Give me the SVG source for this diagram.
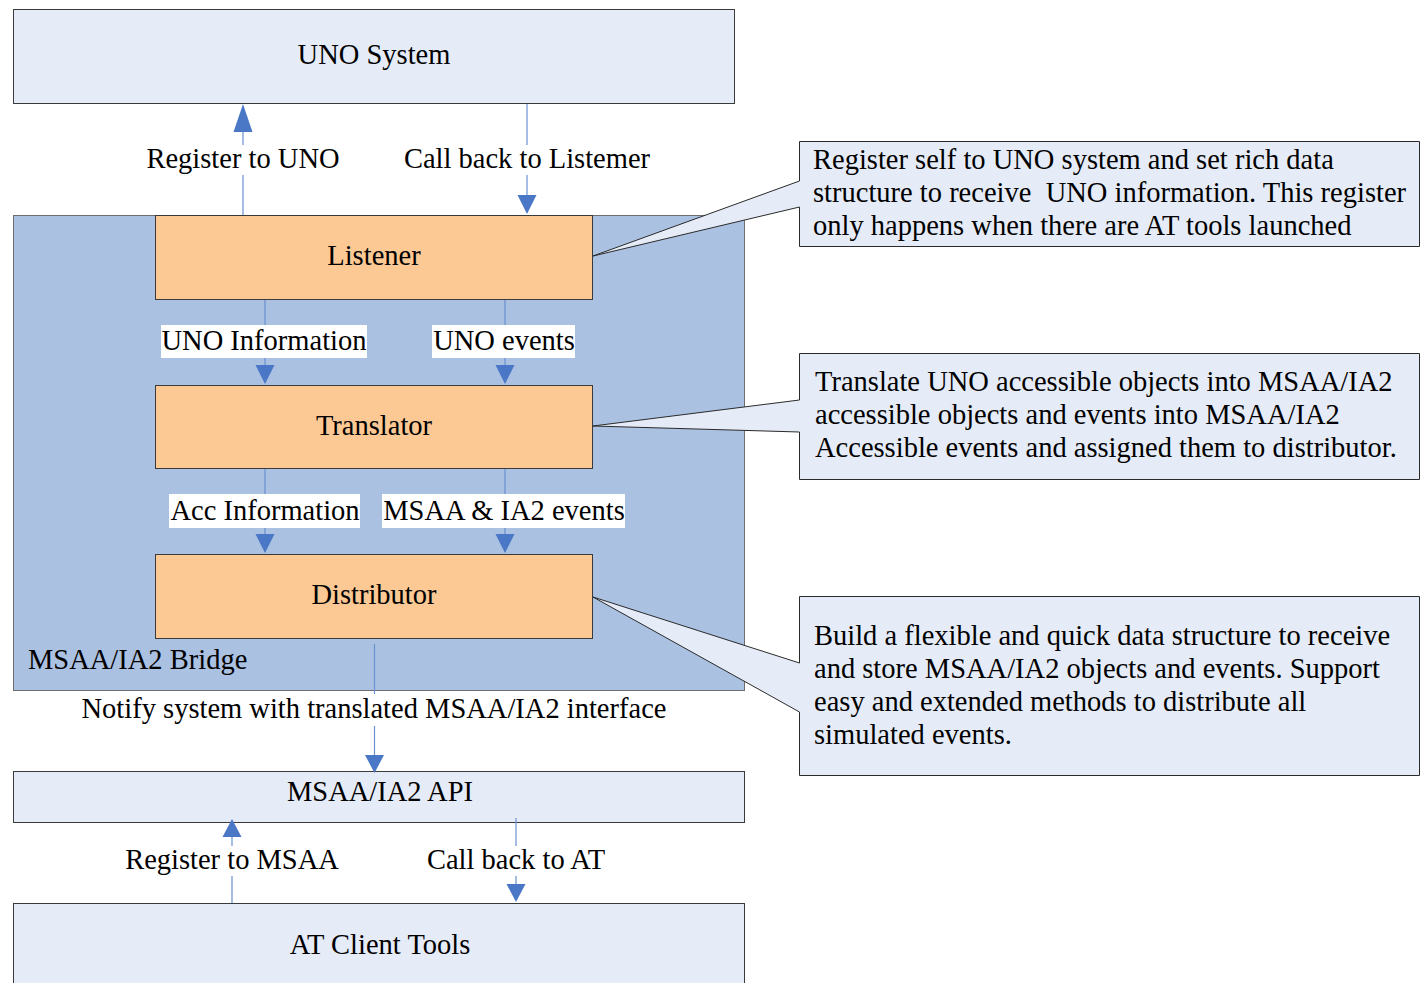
<svg xmlns="http://www.w3.org/2000/svg" width="1420" height="983" viewBox="0 0 1420 983">
<style>
text{font-family:"Liberation Serif","Times New Roman",serif;font-size:28.5px;fill:#000}
.c{text-anchor:middle}
.sys{fill:#E6ECF7;stroke:#3A3A3A;stroke-width:1}
.mod{fill:#FCC994;stroke:#3A3A3A;stroke-width:1}
.bridge{fill:#ABC1E2;stroke:#6E6E6E;stroke-width:1}
.call{fill:#E6ECF7;stroke:#2A2A2A;stroke-width:1}
.ln{stroke:#6A90D2;stroke-width:1.2;fill:none}
.ah{fill:#4A78C6}
.wbg{fill:#FFFFFF}
</style>
<rect width="1420" height="983" fill="#FFFFFF"/>
<g id="uno-system"><rect class="sys" x="13.5" y="9.5" width="721" height="94"/><text class="c" x="374" y="64">UNO System</text></g>
<g id="bridge"><rect class="bridge" x="13.5" y="215.5" width="731" height="475"/><text x="28" y="669">MSAA/IA2 Bridge</text></g>
<g id="msaa-api"><rect class="sys" x="13.5" y="771.5" width="731" height="51"/><text class="c" x="380" y="801">MSAA/IA2 API</text></g>
<g id="at-client"><rect class="sys" x="13.5" y="903.5" width="731" height="90"/><text class="c" x="380" y="954">AT Client Tools</text></g>
<g id="connectors">
<line class="ln" x1="243" y1="130" x2="243" y2="215"/>
<polygon class="ah" points="243,104 233.5,132 252.5,132"/>
<line class="ln" x1="527" y1="104" x2="527" y2="198"/>
<polygon class="ah" points="527,214 517.5,195 536.5,195"/>
<line class="ln" x1="265" y1="299" x2="265" y2="367"/>
<polygon class="ah" points="265,384 255.5,365 274.5,365"/>
<line class="ln" x1="505" y1="299" x2="505" y2="367"/>
<polygon class="ah" points="505,384 495.5,365 514.5,365"/>
<line class="ln" x1="265" y1="468" x2="265" y2="536"/>
<polygon class="ah" points="265,553 255.5,534 274.5,534"/>
<line class="ln" x1="505" y1="468" x2="505" y2="536"/>
<polygon class="ah" points="505,553 495.5,534 514.5,534"/>
<line class="ln" x1="374.5" y1="644" x2="374.5" y2="758"/>
<polygon class="ah" points="374.5,773 365,755 384,755"/>
<line class="ln" x1="232" y1="835" x2="232" y2="903"/>
<polygon class="ah" points="232,819 222.5,837 241.5,837"/>
<line class="ln" x1="516" y1="818" x2="516" y2="887"/>
<polygon class="ah" points="516,902 506.5,884 525.5,884"/>
</g>
<g id="labels">
<rect class="wbg" x="145" y="145" width="197" height="30"/><text class="c" x="243" y="168">Register to UNO</text>
<rect class="wbg" x="402" y="145" width="250" height="30"/><text class="c" x="527" y="168">Call back to Listemer</text>
<rect class="wbg" x="161" y="325" width="206" height="33"/><text class="c" x="264" y="350">UNO Information</text>
<rect class="wbg" x="432" y="325" width="143" height="33"/><text class="c" x="504" y="350">UNO events</text>
<rect class="wbg" x="169" y="494" width="191" height="34"/><text class="c" x="265" y="520">Acc Information</text>
<rect class="wbg" x="382" y="494" width="243" height="34"/><text class="c" x="504" y="520">MSAA &amp; IA2 events</text>
<rect class="wbg" x="80" y="694" width="590" height="32"/><text class="c" x="374" y="718">Notify system with translated MSAA/IA2 interface</text>
<rect class="wbg" x="123" y="846" width="218" height="30"/><text class="c" x="232" y="869">Register to MSAA</text>
<rect class="wbg" x="422" y="846" width="188" height="30"/><text class="c" x="516" y="869">Call back to AT</text>
</g>
<g id="listener"><rect class="mod" x="155.5" y="215.5" width="437" height="84"/><text class="c" x="374" y="265">Listener</text></g>
<g id="translator"><rect class="mod" x="155.5" y="385.5" width="437" height="83"/><text class="c" x="374" y="435">Translator</text></g>
<g id="distributor"><rect class="mod" x="155.5" y="554.5" width="437" height="84"/><text class="c" x="374" y="604">Distributor</text></g>
<g id="callout-listener"><path class="call" d="M799.5,141.5 H1419.5 V246.5 H799.5 V207 L593,256 L799.5,181 Z"/>
<text x="813" y="169">Register self to UNO system and set rich data</text>
<text x="813" y="202">structure to receive &#160;UNO information. This register</text>
<text x="813" y="235">only happens when there are AT tools launched</text></g>
<g id="callout-translator"><path class="call" d="M799.5,353.5 H1419.5 V479.5 H799.5 V432 L593,426 L799.5,400 Z"/>
<text x="815" y="391">Translate UNO accessible objects into MSAA/IA2</text>
<text x="815" y="424">accessible objects and events into MSAA/IA2</text>
<text x="815" y="457">Accessible events and assigned them to distributor.</text></g>
<g id="callout-distributor"><path class="call" d="M799.5,596.5 H1419.5 V775.5 H799.5 V712 L593,597 L799.5,663 Z"/>
<text x="814" y="645">Build a flexible and quick data structure to receive</text>
<text x="814" y="678">and store MSAA/IA2 objects and events. Support</text>
<text x="814" y="711">easy and extended methods to distribute all</text>
<text x="814" y="744">simulated events.</text></g>
</svg>
